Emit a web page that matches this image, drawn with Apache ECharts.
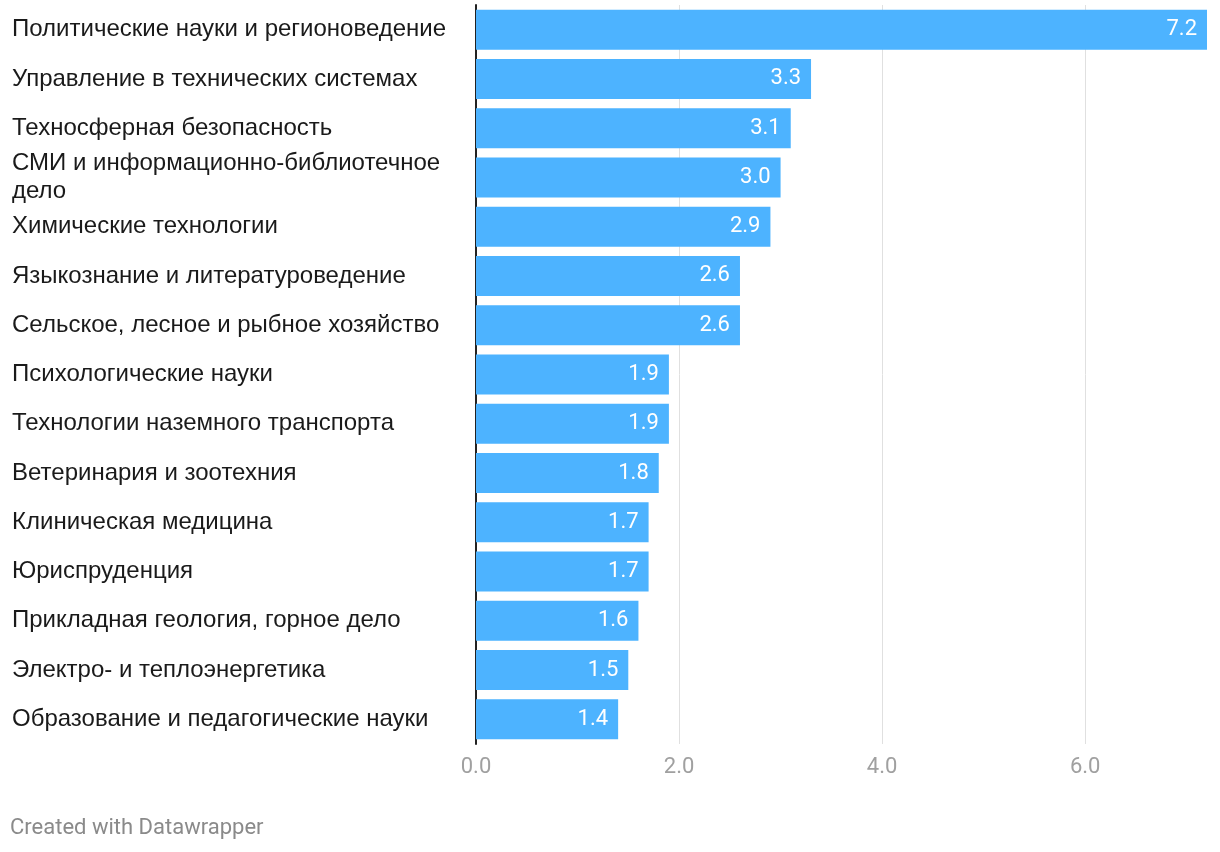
<!DOCTYPE html>
<html>
<head>
<meta charset="utf-8">
<script src="https://cdn.jsdelivr.net/npm/echarts@6/dist/echarts.min.js"></script>
<style>
html,body{margin:0;padding:0;background:#fff;}
#chart{width:1220px;height:852px;}
</style>
</head>
<body>
<div id="chart"></div>
<script>
const categories = [
  "Политические науки и регионоведение",
  "Управление в технических системах",
  "Техносферная безопасность",
  "СМИ и информационно-библиотечное\nдело",
  "Химические технологии",
  "Языкознание и литературоведение",
  "Сельское, лесное и рыбное хозяйство",
  "Психологические науки",
  "Технологии наземного транспорта",
  "Ветеринария и зоотехния",
  "Клиническая медицина",
  "Юриспруденция",
  "Прикладная геология, горное дело",
  "Электро- и теплоэнергетика",
  "Образование и педагогические науки"
];
const values = [7.2, 3.3, 3.1, 3.0, 2.9, 2.6, 2.6, 1.9, 1.9, 1.8, 1.7, 1.7, 1.6, 1.5, 1.4];
const xTicks = [0, 2, 4, 6];

const chart = echarts.init(document.getElementById('chart'), null, {renderer: 'canvas'});
const grid = '#e0e0e0';
chart.setOption({
  animation: false,
  grid: {left: 476, right: 13, top: 5, bottom: 108, containLabel: false},
  xAxis: {
    type: 'value', min: 0, max: 7.2, interval: 2,
    axisLine: {show: false}, axisTick: {show: false},
    splitLine: {show: true, lineStyle: {color: [grid, grid, grid, grid, 'rgba(0,0,0,0)'], width: 1}},
    axisLabel: {
      margin: 12, color: '#a0a0a0', fontSize: 22, fontFamily: 'Roboto',
      showMaxLabel: false,
      formatter: v => xTicks.indexOf(v) >= 0 ? v.toFixed(1) : ''
    }
  },
  yAxis: {
    type: 'category', data: categories, inverse: true,
    axisLine: {show: true, lineStyle: {color: '#222', width: 2}},
    axisTick: {show: false},
    axisLabel: {
      align: 'left', margin: 464, color: '#1a1a1a', fontSize: 24,
      fontFamily: "'Liberation Sans', Arial, sans-serif", lineHeight: 28
    }
  },
  series: [{
    type: 'bar', data: values, barWidth: 40,
    itemStyle: {color: '#4db3ff'},
    label: {
      show: true, position: 'insideRight', distance: 10,
      color: '#fff', fontSize: 22, fontFamily: 'Roboto',
      formatter: p => p.value.toFixed(1)
    }
  }],
  graphic: [{
    type: 'text', left: 10, top: 817,
    style: {text: 'Created with Datawrapper', fill: '#8a8a8a', font: '22px Roboto'}
  }]
});
</script>
</body>
</html>
